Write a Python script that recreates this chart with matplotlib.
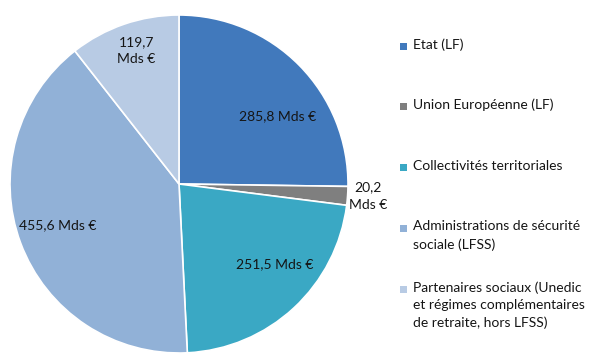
import numpy as np
import matplotlib.pyplot as plt
from matplotlib.patches import Rectangle

plt.rcParams['font.family'] = ['Lato', 'DejaVu Sans']

labels = ["Etat (LF)",
          "Union Européenne (LF)",
          "Collectivités territoriales",
          "Administrations de sécurité\nsociale (LFSS)",
          "Partenaires sociaux (Unedic\net régimes complémentaires\nde retraite, hors LFSS)"]
values = [285.8, 20.2, 251.5, 455.6, 119.7]
value_text = ["285,8 Mds €", "20,2\nMds €", "251,5 Mds €", "455,6 Mds €", "119,7\nMds €"]
colors = ["#4179bc", "#7f7f7f", "#3aa8c4", "#91b1d7", "#b8cbe4"]

# label placement: distance from centre and angular nudge from the wedge middle
label_r = [0.71, 1.12, 0.74, 0.76, 0.83]
label_dtheta = [-10.0, 0.4, 7.4, -1.7, -1.2]

W, H = 590, 358
fig = plt.figure(figsize=(W / 100, H / 100), dpi=100)
ax = fig.add_axes([10 / W, 5 / H, 338 / W, 338 / H])

wedges, _ = ax.pie(values, colors=colors, startangle=90, counterclock=False,
                   radius=1, wedgeprops=dict(edgecolor="white", linewidth=1.2))

for w, txt, r, dt in zip(wedges, value_text, label_r, label_dtheta):
    mid = np.deg2rad((w.theta1 + w.theta2) / 2 + dt)
    ax.text(r * np.cos(mid), r * np.sin(mid), txt, ha="center", va="center",
            fontsize=10, color="#151515", linespacing=1.55)

ax.set_xlim(-1, 1)
ax.set_ylim(-1, 1)
ax.set_aspect("equal")
ax.axis("off")

# legend, one entry every ~61 px, square marker beside the first line
first_line = 46
step = 60.75
for i, (w, lab) in enumerate(zip(wedges, labels)):
    yc = first_line + i * step
    fig.patches.append(Rectangle((400 / W, 1 - (yc + 3.5) / H), 7 / W, 7 / H,
                                 transform=fig.transFigure, facecolor=w.get_facecolor(),
                                 edgecolor="none"))
    fig.text(413 / W, 1 - (yc - 8) / H, lab, ha="left", va="top",
             fontsize=10, color="#151515", linespacing=1.55)

fig.savefig("out.png", dpi=100)
